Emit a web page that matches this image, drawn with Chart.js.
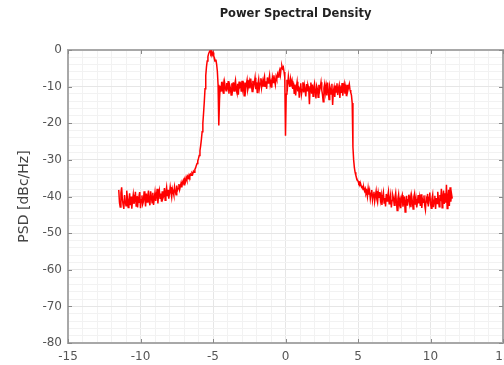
<!DOCTYPE html>
<html><head><meta charset="utf-8">
<script src="https://cdn.jsdelivr.net/npm/chart.js@4.4.1/dist/chart.umd.min.js"></script>
<style>html,body{margin:0;padding:0;background:#fff;}#wrap{width:504px;height:365px;}</style>
</head><body><div id="wrap"><canvas id="c" width="504" height="365"></canvas></div>
<script>
const chartTitle = 'Power Spectral Density';
const yAxisLabel = 'PSD [dBc/Hz]';
const xTickLabels = [-15, -10, -5, 0, 5, 10, 15];
const yTickLabels = [-80, -70, -60, -50, -40, -30, -20, -10, 0];
const freqStart = -11.5;
const freqStep = 0.05;
const psd = [
  -38.2, -41.6, -42.9, -39.0, -37.5, -40.8, -42.2, -43.4, -39.6, -41.3, -42.5, -38.4, -40.7, -43.0, -41.2, -39.1, -42.4, -40.0, -43.3, -41.1,
  -39.5, -42.0, -41.0, -38.7, -42.6, -39.9, -43.0, -40.4, -41.6, -38.8, -43.2, -40.9, -39.7, -42.1, -41.4, -38.6, -40.3, -42.7, -39.2, -41.5,
  -40.0, -38.4, -41.3, -42.4, -38.6, -40.1, -41.7, -39.0, -42.3, -40.6, -38.9, -41.2, -39.8, -37.9, -41.9, -39.4, -38.3, -40.5, -39.2, -41.4,
  -38.6, -40.4, -39.8, -37.7, -41.0, -38.9, -37.5, -39.9, -38.2, -40.6, -39.1, -37.4, -38.8, -40.2, -37.9, -38.7, -39.6, -37.3, -38.4, -39.5,
  -37.0, -38.3, -37.8, -36.6, -38.1, -37.2, -36.3, -37.5, -36.1, -35.6, -36.8, -35.4, -35.9, -34.8, -35.5, -34.5, -34.9, -34.1, -34.6, -33.9,
  -34.2, -33.6, -33.9, -33.1, -33.4, -32.6, -32.2, -31.5, -31.0, -30.3, -29.6, -28.8, -27.5, -26.1, -24.4, -22.3, -20.0, -17.2, -14.1, -10.6,
  -7.0, -4.6, -3.0, -1.8, -1.0, -0.5, -0.2, -0.9, -0.4, -1.3, -0.7, -1.6, -2.2, -3.0, -2.6, -3.9, -5.8, -9.5, -20.6, -13.5,
  -9.8, -11.4, -8.7, -10.6, -9.3, -12.0, -8.9, -10.2, -11.1, -9.0, -10.8, -8.5, -11.9, -9.6, -10.4, -12.3, -9.1, -10.7, -8.8, -11.2,
  -9.4, -8.3, -10.9, -11.7, -9.2, -12.2, -8.6, -10.0, -9.5, -11.4, -8.4, -10.6, -9.7, -12.5, -8.9, -11.0, -9.3, -8.2, -10.8, -9.9,
  -8.7, -10.5, -7.8, -9.6, -11.3, -8.4, -10.1, -9.0, -7.6, -10.7, -8.8, -11.6, -9.3, -8.0, -10.4, -9.1, -7.7, -10.2, -8.6, -9.8,
  -8.1, -7.2, -9.9, -8.5, -10.6, -7.5, -9.0, -8.3, -7.0, -9.6, -8.7, -10.3, -7.6, -8.9, -6.9, -8.4, -9.5, -7.3, -8.0, -6.6,
  -7.4, -6.2, -5.5, -6.8, -4.9, -4.3, -5.1, -4.7, -6.0, -7.5, -23.4, -12.0, -8.1, -9.6, -7.2, -8.8, -10.1, -7.9, -9.3, -8.4,
  -10.6, -8.9, -11.8, -9.4, -12.4, -10.1, -8.7, -11.3, -9.8, -13.0, -10.4, -9.1, -12.1, -10.8, -8.8, -11.6, -9.6, -10.9, -12.7, -9.3,
  -11.1, -9.7, -10.5, -14.8, -10.0, -8.9, -11.9, -9.4, -12.6, -10.3, -9.2, -11.5, -13.2, -9.9, -10.7, -12.9, -9.5, -11.2, -10.1, -8.8,
  -10.9, -12.2, -14.1, -10.4, -9.3, -11.6, -10.0, -12.4, -8.9, -11.0, -13.5, -9.8, -10.6, -12.0, -9.2, -15.0, -11.3, -10.2, -12.8, -9.7,
  -11.5, -9.1, -12.3, -10.5, -9.6, -13.1, -10.0, -11.7, -9.0, -12.5, -10.6, -9.4, -11.9, -10.3, -12.6, -9.5, -11.1, -10.2, -9.3, -10.9,
  -11.6, -12.4, -14.5, -26.5, -30.0, -32.1, -33.4, -34.2, -34.9, -35.5, -35.8, -36.4, -36.2, -37.0, -36.8, -37.5, -37.3, -38.1, -37.6, -38.5,
  -37.9, -39.2, -38.6, -40.0, -37.8, -39.5, -38.4, -40.6, -39.1, -38.2, -40.9, -39.4, -38.7, -41.3, -39.8, -38.5, -40.7, -41.6, -39.0, -40.2,
  -38.8, -41.0, -39.6, -42.3, -40.1, -38.9, -41.8, -40.4, -42.7, -39.3, -41.2, -40.0, -38.7, -42.0, -40.8, -39.5, -43.0, -41.1, -39.7, -40.6,
  -42.4, -40.2, -39.0, -41.5, -43.8, -40.6, -39.4, -42.1, -41.0, -43.2, -40.3, -39.6, -42.8, -41.4, -40.0, -44.2, -41.7, -39.8, -42.5, -40.9,
  -39.5, -41.8, -40.4, -42.9, -39.9, -41.3, -43.4, -40.1, -39.2, -42.2, -40.7, -43.0, -41.5, -39.6, -41.9, -40.3, -42.6, -39.4, -43.1, -40.8,
  -41.6, -39.7, -42.4, -43.6, -40.5, -41.1, -39.3, -42.7, -40.2, -38.9, -41.8, -43.2, -40.6, -39.5, -42.9, -41.0, -39.8, -43.4, -40.4, -41.9,
  -38.7, -40.9, -42.8, -39.6, -41.3, -37.9, -43.1, -40.2, -38.4, -42.0, -39.1, -41.7, -36.8, -43.3, -40.5, -38.2, -42.6, -37.5, -41.4, -39.3,
  -40.6
];

const points = psd.map((v, i) => ({ x: +(freqStart + i * freqStep).toFixed(3), y: v }));

const framePlugin = {
  id: 'frame',
  beforeDatasetsDraw(chart) {
    const { ctx, chartArea: a, scales } = chart;
    ctx.save();
    ctx.strokeStyle = '#a8a8a8';
    ctx.lineWidth = 2;
    ctx.strokeRect(a.left, a.top, a.right - a.left, a.bottom - a.top);
    ctx.lineWidth = 1;
    ctx.strokeStyle = '#8a8a8a';
    const L = 4;
    scales.x.ticks.forEach(t => {
      if (!xTickLabels.includes(t.value)) return;
      const px = Math.round(scales.x.getPixelForValue(t.value)) + 0.5;
      ctx.beginPath();
      ctx.moveTo(px, a.bottom); ctx.lineTo(px, a.bottom - L);
      ctx.moveTo(px, a.top); ctx.lineTo(px, a.top + L);
      ctx.stroke();
    });
    scales.y.ticks.forEach(t => {
      if (!yTickLabels.includes(t.value)) return;
      const py = Math.round(scales.y.getPixelForValue(t.value)) + 0.5;
      ctx.beginPath();
      ctx.moveTo(a.left, py); ctx.lineTo(a.left + L, py);
      ctx.moveTo(a.right, py); ctx.lineTo(a.right - L, py);
      ctx.stroke();
    });
    ctx.restore();
  },
  afterDraw(chart) {
    const { ctx, chartArea: a } = chart;
    ctx.save();
    ctx.font = 'bold 11.5px "DejaVu Sans"';
    ctx.fillStyle = '#222';
    ctx.textAlign = 'center';
    ctx.textBaseline = 'middle';
    ctx.fillText(chartTitle, (a.left + a.right) / 2 + 10, 14);
    ctx.restore();
  }
};

new Chart(document.getElementById('c'), {
  type: 'line',
  data: {
    datasets: [{
      data: points,
      borderColor: '#ff0000',
      borderWidth: 1.5,
      pointRadius: 0,
      tension: 0,
      fill: false
    }]
  },
  options: {
    responsive: false,
    animation: false,
    devicePixelRatio: 1,
    layout: { padding: { top: 50, right: 1, bottom: 0, left: 0 } },
    plugins: { legend: { display: false }, tooltip: { enabled: false }, title: { display: false } },
    scales: {
      x: {
        type: 'linear', min: -15, max: 15,
        ticks: {
          stepSize: 1, autoSkip: false, maxRotation: 0,
          callback: v => xTickLabels.includes(v) ? String(v) : '',
          font: { family: 'DejaVu Sans', size: 12 }, color: '#555', padding: 7
        },
        grid: {
          drawTicks: false,
          color: c => (c.tick && xTickLabels.includes(c.tick.value)) ? '#e6e6e6' : '#f2f2f2',
          lineWidth: 1
        },
        border: { display: false },
        afterFit: s => { s.height = 22; s.paddingLeft = 0; s.paddingRight = 0; }
      },
      y: {
        type: 'linear', min: -80, max: 0,
        ticks: {
          stepSize: 2, autoSkip: false,
          callback: v => yTickLabels.includes(v) ? String(v) : '',
          font: { family: 'DejaVu Sans', size: 12 }, color: '#555', padding: 6
        },
        grid: {
          drawTicks: false,
          color: c => (c.tick && yTickLabels.includes(c.tick.value)) ? '#e6e6e6' : '#f2f2f2',
          lineWidth: 1
        },
        border: { display: false },
        title: { display: true, text: yAxisLabel, font: { family: 'DejaVu Sans', size: 14 }, color: '#444', padding: { top: 16, bottom: 0 } },
        afterFit: s => { s.width = 68; s.paddingTop = 0; s.paddingBottom = 0; }
      }
    }
  },
  plugins: [framePlugin]
});
</script>
</body></html>
